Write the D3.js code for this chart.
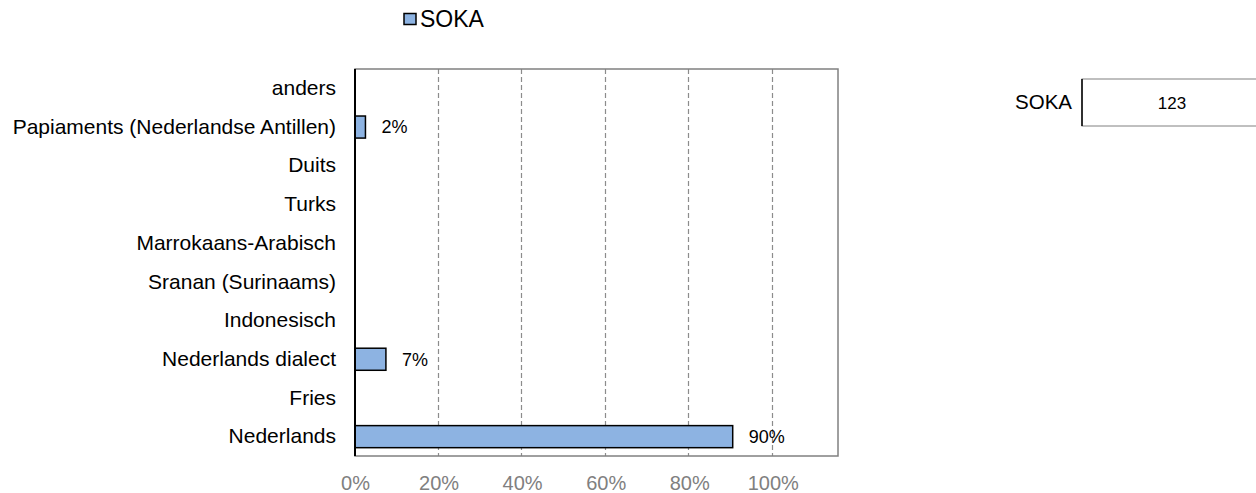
<!DOCTYPE html>
<html><head><meta charset="utf-8">
<script src="https://cdn.jsdelivr.net/npm/d3@7"></script>
<style>body{margin:0;background:#fff;font-family:"Liberation Sans",Arial,sans-serif;}</style>
</head><body><svg id="c" width="1256" height="493"></svg>
<script>
const categories = ["Nederlands","Fries","Nederlands dialect","Indonesisch","Sranan (Surinaams)","Marrokaans-Arabisch","Turks","Duits","Papiaments (Nederlandse Antillen)","anders"];
const values = [0.904, null, 0.074, null, null, null, null, null, 0.025, null];
const valueLabels = ["90%", "", "7%", "", "", "", "", "", "2%", ""];
const tickValues = [0, 0.2, 0.4, 0.6, 0.8, 1.0];
const seriesName = "SOKA";
const countLabel = "123";

const FONT = "Liberation Sans, Arial, sans-serif";
const svg = d3.select("#c").attr("font-family", FONT);
const L = 355, R = 838, T = 69, B = 456;
const x = d3.scaleLinear().domain([0, 1.156]).range([L, R]);
const y = d3.scaleBand().domain(categories).range([B, T]).paddingInner(0.43).paddingOuter(0.215);

// gridlines
svg.append("g").selectAll("line").data(tickValues.slice(1)).join("line")
  .attr("x1", d => Math.round(x(d)) - 0.5).attr("x2", d => Math.round(x(d)) - 0.5).attr("y1", T).attr("y2", B)
  .attr("stroke", "#8c8c8c").attr("stroke-width", 1.2).attr("stroke-dasharray", "5,3");

// frame
svg.append("rect").attr("x", L).attr("y", T).attr("width", R - L).attr("height", B - T)
  .attr("fill", "none").attr("stroke", "#808080").attr("stroke-width", 1.5);

const rows = categories.map((c, i) => ({c, v: values[i], l: valueLabels[i]})).filter(d => d.v != null);

// bars
svg.append("g").selectAll("rect").data(rows).join("rect")
  .attr("x", x(0)).attr("y", d => y(d.c)).attr("width", d => x(d.v) - x(0)).attr("height", y.bandwidth())
  .attr("fill", "#8db3e2").attr("stroke", "#000").attr("stroke-width", 1.5);

// value labels
svg.append("g").selectAll("text").data(rows).join("text")
  .attr("x", d => x(d.v) + 16).attr("y", d => y(d.c) + y.bandwidth() / 2)
  .attr("dy", "0.35em").attr("font-size", 18).attr("fill", "#000").text(d => d.l);

// left axis line
svg.append("line").attr("x1", L).attr("x2", L).attr("y1", T).attr("y2", B)
  .attr("stroke", "#000").attr("stroke-width", 2);

// category labels
const yAxis = d3.axisLeft(y).tickSize(0).tickPadding(19);
const ga = svg.append("g").attr("transform", `translate(${L},0)`).call(yAxis);
ga.select(".domain").remove();
ga.attr("font-family", FONT);
ga.selectAll("text").attr("font-size", 21).attr("fill", "#000");

// x axis labels
const xAxis = d3.axisBottom(x).tickValues(tickValues).tickSize(0).tickPadding(20).tickFormat(d3.format(".0%"));
const gx = svg.append("g").attr("transform", `translate(0,${B})`).call(xAxis);
gx.select(".domain").remove();
gx.attr("font-family", FONT);
gx.selectAll("text").attr("font-size", 20).attr("fill", "#808080");

// legend
svg.append("rect").attr("x", 404).attr("y", 13.5).attr("width", 12).attr("height", 11)
  .attr("fill", "#8db3e2").attr("stroke", "#000").attr("stroke-width", 1.5);
svg.append("text").attr("x", 420).attr("y", 27).attr("font-size", 23).attr("fill", "#000").text(seriesName);

// side box
svg.append("rect").attr("x", 1082).attr("y", 79).attr("width", 200).attr("height", 47)
  .attr("fill", "#fff").attr("stroke", "#808080").attr("stroke-width", 1);
svg.append("line").attr("x1", 1082).attr("x2", 1082).attr("y1", 79).attr("y2", 126).attr("stroke", "#000").attr("stroke-width", 1.5);
svg.append("text").attr("x", 1072).attr("y", 102).attr("dy", "0.35em").attr("text-anchor", "end")
  .attr("font-size", 20.5).attr("fill", "#000").text(seriesName);
svg.append("text").attr("x", 1172).attr("y", 103).attr("dy", "0.35em").attr("text-anchor", "middle")
  .attr("font-size", 17).attr("fill", "#000").text(countLabel);
</script></body></html>
